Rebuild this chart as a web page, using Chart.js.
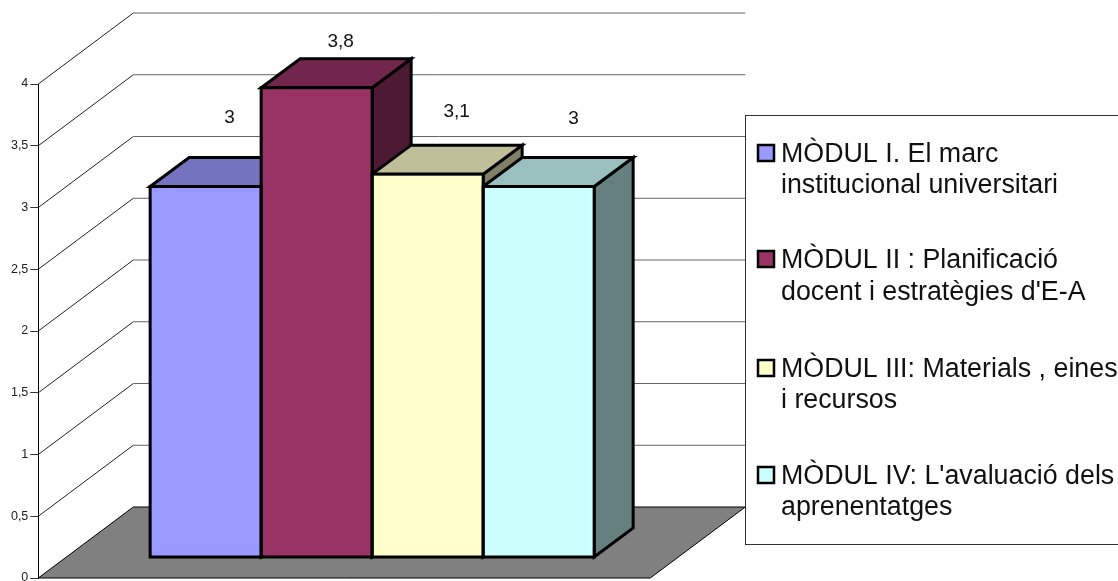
<!DOCTYPE html>
<html>
<head>
<meta charset="utf-8">
<script src="https://cdn.jsdelivr.net/npm/chart.js@4/dist/chart.umd.min.js"></script>
<style>
    html, body { margin: 0; padding: 0; background: #fff; overflow: hidden; }
    canvas { display: block; }
</style>
</head>
<body>
<canvas id="barChart" width="1118" height="581"></canvas>
<script>
// Values
const categories = [''];
const seriesLines = [
    ['MÒDUL I. El marc', 'institucional universitari'],
    ['MÒDUL II : Planificació', "docent i estratègies d'E-A"],
    ['MÒDUL III: Materials , eines', 'i recursos'],
    ['MÒDUL IV: L\'avaluació dels', 'aprenentatges']
];
const seriesValues = [3, 3.8, 3.1, 3];
const valueLabels = ['3', '3,8', '3,1', '3'];
const tickValues = [0, 0.5, 1, 1.5, 2, 2.5, 3, 3.5, 4];
const frontColors = ['#9999FF', '#993366', '#FFFFCC', '#CCFFFF'];
const topColors = ['#7373BF', '#73264D', '#BFBF99', '#99BFBF'];
const sideColors = ['#4D4D80', '#4D1933', '#808066', '#668080'];

// Excel style perspective, in pixels
const wallDepth = { x: 95, y: -71 };
const barDepth = { x: 39, y: -29 };
const floorWidth = 612;
const labelShift = [[24, -69], [24, -46], [29, -62], [35, -68]];
const legendRows = [[162, 193], [268, 300], [377, 408], [484, 515]];

const FONT = '"Liberation Sans", Arial, sans-serif';

function face(ctx, pts, fill) {
    ctx.beginPath();
    pts.forEach((p, i) => i ? ctx.lineTo(p[0], p[1]) : ctx.moveTo(p[0], p[1]));
    ctx.closePath();
    ctx.fillStyle = fill;
    ctx.fill();
    ctx.stroke();
}

const walls3d = {
    id: 'walls3d',
    beforeDatasetsDraw(chart) {
        const ctx = chart.ctx;
        const y = chart.scales.y;
        const left = chart.chartArea.left;
        ctx.save();

        // grid lines run along the side wall, then across the back wall
        tickValues.slice(1).forEach(v => {
            const py = y.getPixelForValue(v);
            ctx.strokeStyle = '#222';
            ctx.lineWidth = 1;
            ctx.beginPath();
            ctx.moveTo(left, py);
            ctx.lineTo(left + wallDepth.x, py + wallDepth.y);
            ctx.stroke();
            ctx.strokeStyle = '#666';
            ctx.beginPath();
            ctx.moveTo(left + wallDepth.x, py + wallDepth.y);
            ctx.lineTo(left + wallDepth.x + floorWidth, py + wallDepth.y);
            ctx.stroke();
        });

        // floor
        const y0 = y.getPixelForValue(0);
        ctx.strokeStyle = '#000';
        ctx.lineWidth = 1;
        face(ctx, [
            [left, y0],
            [left + wallDepth.x, y0 + wallDepth.y],
            [left + wallDepth.x + floorWidth, y0 + wallDepth.y],
            [left + floorWidth, y0]
        ], '#808080');

        // top and side of each bar, left to right so later bars cover earlier ones
        ctx.lineWidth = 3;
        ctx.lineJoin = 'miter';
        chart.data.datasets.forEach((ds, i) => {
            const bar = chart.getDatasetMeta(i).data[0].getProps(['x', 'y', 'base', 'width'], true);
            const l = bar.x - bar.width / 2, r = bar.x + bar.width / 2;
            const dx = barDepth.x, dy = barDepth.y;
            face(ctx, [[r, bar.y], [r + dx, bar.y + dy], [r + dx, bar.base + dy], [r, bar.base]], sideColors[i]);
            face(ctx, [[l, bar.y], [l + dx, bar.y + dy], [r + dx, bar.y + dy], [r, bar.y]], topColors[i]);
        });
        ctx.restore();
    },
    afterDatasetsDraw(chart) {
        const ctx = chart.ctx;
        ctx.save();
        ctx.font = '19px ' + FONT;
        ctx.textAlign = 'center';
        ctx.textBaseline = 'middle';
        chart.data.datasets.forEach((ds, i) => {
            const bar = chart.getDatasetMeta(i).data[0].getProps(['x', 'y', 'base', 'width'], true);
            // outline centred on the bar edge so neighbours share one line
            ctx.strokeStyle = '#000';
            ctx.lineWidth = 3;
            ctx.strokeRect(bar.x - bar.width / 2, bar.y, bar.width, bar.base - bar.y);
            ctx.fillStyle = '#111';
            ctx.fillText(valueLabels[i], bar.x + labelShift[i][0], bar.y + labelShift[i][1]);
        });
        ctx.restore();
    }
};

const boxLegend = {
    id: 'boxLegend',
    afterDraw(chart) {
        const ctx = chart.ctx;
        ctx.save();
        ctx.fillStyle = '#fff';
        ctx.strokeStyle = '#333';
        ctx.lineWidth = 1;
        ctx.fillRect(745.5, 115.5, 380, 429);
        ctx.strokeRect(745.5, 115.5, 380, 429);

        ctx.font = '26.8px ' + FONT;
        ctx.textAlign = 'left';
        ctx.textBaseline = 'alphabetic';
        seriesLines.forEach((lines, i) => {
            const base = legendRows[i];
            ctx.fillStyle = frontColors[i];
            ctx.strokeStyle = '#000';
            ctx.lineWidth = 2.5;
            ctx.fillRect(758, base[0] - 17, 16, 16);
            ctx.strokeRect(758, base[0] - 17, 16, 16);
            ctx.fillStyle = '#111';
            lines.forEach((line, j) => ctx.fillText(line, 781, base[j]));
        });
        ctx.restore();
    }
};

new Chart(document.getElementById('barChart'), {
    type: 'bar',
    data: {
        labels: categories,
        datasets: seriesLines.map((lines, i) => ({
            label: lines.join(' '),
            data: [seriesValues[i]],
            yAxisID: 'yBars',
            backgroundColor: frontColors[i],
            borderWidth: 0
        }))
    },
    plugins: [walls3d, boxLegend],
    options: {
        responsive: false,
        animation: false,
        layout: { padding: { left: 0, right: 412, top: 84, bottom: 3 } },
        categoryPercentage: 444 / 667.7,
        barPercentage: 1,
        plugins: {
            legend: { display: false },
            tooltip: { enabled: false }
        },
        scales: {
            x: { display: false },
            y: {
                min: 0,
                max: 4,
                afterBuildTicks(scale) {
                    scale.ticks = tickValues.map(v => ({ value: v }));
                },
                afterFit(scale) {
                    scale.width = 38.3;
                    scale.paddingTop = 0;
                    scale.paddingBottom = 0;
                },
                border: { color: '#000', width: 1 },
                grid: { drawOnChartArea: false, tickLength: 8, tickColor: '#333' },
                ticks: {
                    padding: 2,
                    color: '#222',
                    font: { family: FONT, size: 12.5 },
                    callback: v => String(v).replace('.', ',')
                }
            },
            // the bars float above the front edge of the floor, 21px up the axis
            yBars: { display: false, min: -0.17, max: 3.83 }
        }
    }
});
</script>
</body>
</html>
